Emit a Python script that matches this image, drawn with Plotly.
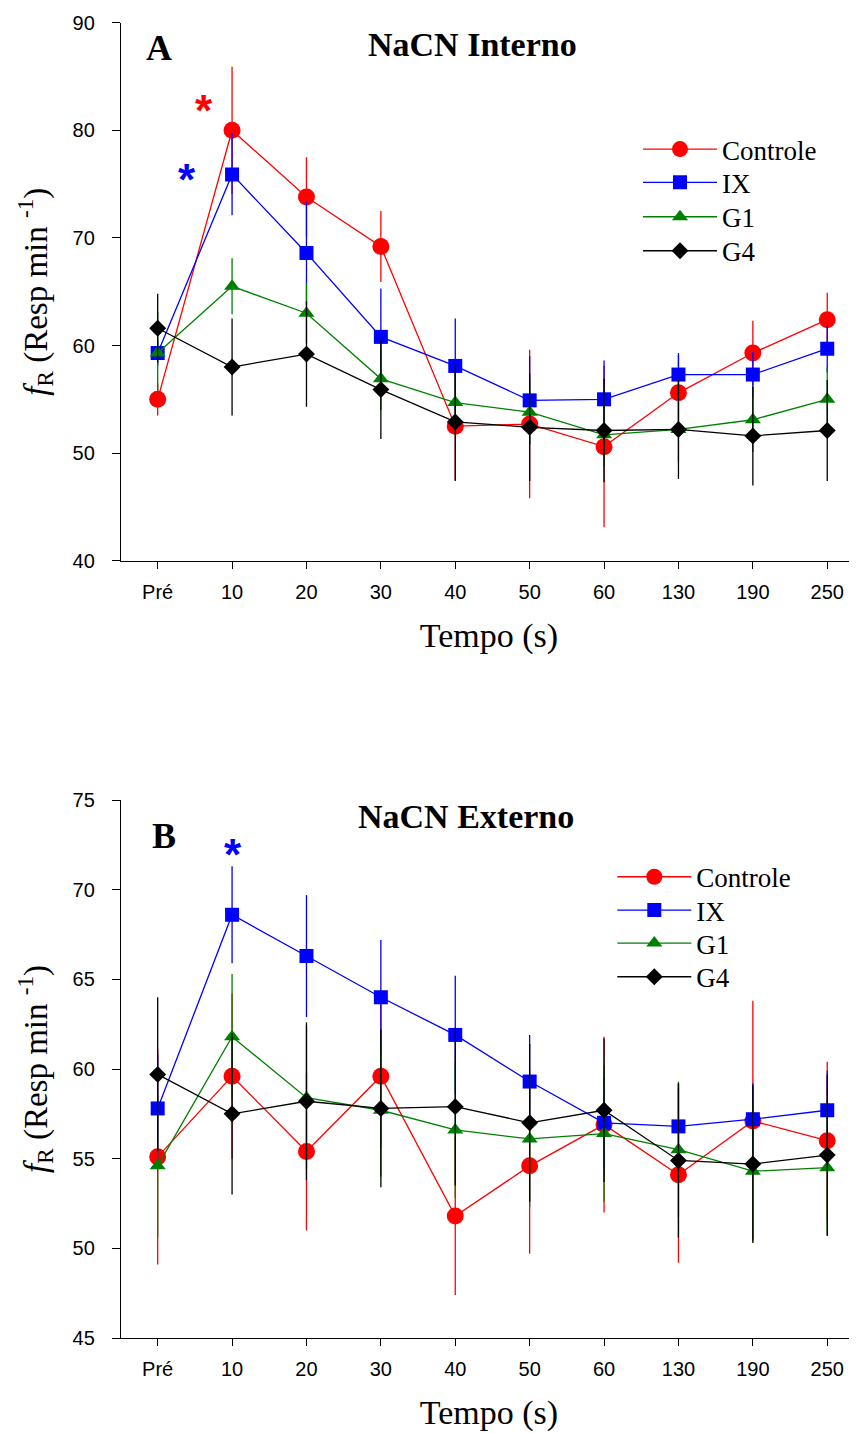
import plotly.graph_objects as go

categories = ["Pré", "10", "20", "30", "40", "50", "60", "130", "190", "250"]
series_names = ["Controle", "IX", "G1", "G4"]

# Panel A – NaCN Interno
a_controle = [55.0, 80.0, 73.8, 69.2, 52.5, 52.7, 50.6, 55.6, 59.3, 62.4]
a_controle_err = [1.5, 5.9, 3.7, 3.3, 5.0, 6.9, 7.5, 3.5, 3.0, 2.5]
a_ix = [59.3, 75.9, 68.6, 60.8, 58.1, 54.9, 55.0, 57.3, 57.3, 59.7]
a_ix_err = [1.2, 3.8, 4.8, 4.5, 4.4, 4.1, 3.6, 2.0, 2.1, 2.2]
a_g1 = [59.3, 65.5, 63.0, 56.9, 54.7, 53.8, 51.7, 52.2, 53.1, 55.0]
a_g1_err = [3.8, 2.6, 2.8, 2.9, 3.0, 3.0, 3.0, 3.0, 3.0, 3.0]
a_g4 = [61.6, 58.0, 59.2, 55.9, 52.9, 52.4, 52.1, 52.2, 51.6, 52.1]
a_g4_err = [3.2, 4.5, 4.9, 4.6, 5.5, 5.0, 4.8, 4.6, 4.6, 4.7]

# Panel B – NaCN Externo
b_controle = [55.1, 59.6, 55.4, 59.6, 51.8, 54.6, 56.9, 54.1, 57.1, 56.0]
b_controle_err = [6.0, 4.6, 4.4, 4.0, 4.4, 4.9, 4.9, 4.9, 6.7, 4.4]
b_ix = [57.8, 68.6, 66.3, 64.0, 61.9, 59.3, 57.0, 56.8, 57.2, 57.7]
b_ix_err = [3.0, 2.7, 3.4, 3.2, 3.3, 2.6, 2.5, 2.4, 2.0, 2.2]
b_g1 = [54.6, 61.8, 58.4, 57.7, 56.6, 56.1, 56.4, 55.5, 54.3, 54.5]
b_g1_err = [4.0, 3.5, 4.0, 3.7, 3.8, 3.8, 3.8, 3.8, 3.8, 3.8]
b_g4 = [59.7, 57.5, 58.2, 57.8, 57.9, 57.0, 57.7, 54.9, 54.7, 55.2]
b_g4_err = [4.3, 4.5, 4.4, 4.4, 4.4, 4.4, 4.0, 4.3, 4.4, 4.5]

colors = ["#FF0000", "#0000FF", "#008000", "#000000"]
symbols = ["circle", "square", "triangle-up", "diamond"]
msizes = [17, 14, 14, 13]

# page body has an 8px margin: figure is sized so it ends at the window edge
W, H = 849, 1425
OFF = 8  # reference-pixel -> figure-pixel offset

def px_x(v):
    return (v - OFF) / W

def px_y(v):
    return 1 - (v - OFF) / H

fig = go.Figure()

serif = "Liberation Serif, Times New Roman, serif"
sans = "Liberation Sans, Arial, sans-serif"

panels = [
    ("x", "y", [a_controle, a_ix, a_g1, a_g4], [a_controle_err, a_ix_err, a_g1_err, a_g4_err],
     680.0, [150.0, 183.3, 217.7, 251.7], 0),
    ("x2", "y2", [b_controle, b_ix, b_g1, b_g4], [b_controle_err, b_ix_err, b_g1_err, b_g4_err],
     654.3, [877.7, 911.0, 944.0, 977.7], 4),
]
ITEMW = 74
legends = {}
for xa, ya, vals, errs, mx, rows, lo in panels:
    for i, name in enumerate(series_names):
        lname = "legend" if lo + i == 0 else f"legend{lo + i + 1}"
        fig.add_trace(go.Scatter(
            x=categories, y=vals[i], name=name, xaxis=xa, yaxis=ya,
            mode="lines+markers", legend=lname,
            line=dict(color=colors[i], width=1.3),
            marker=dict(color=colors[i], symbol=symbols[i], size=msizes[i], line=dict(width=0)),
            error_y=dict(type="data", array=errs[i], visible=True, color=colors[i], thickness=1.3, width=0),
        ))
        legends[lname] = dict(
            x=px_x(mx - (ITEMW + 10) / 2), y=px_y(rows[i] - 25), xanchor="left", yanchor="top",
            font=dict(family=serif, size=27, color="black"), itemwidth=ITEMW,
            bgcolor="rgba(0,0,0,0)", borderwidth=0,
        )

def xaxis(anchor):
    return dict(
        type="category", categoryorder="array", categoryarray=categories,
        range=[-0.493, 9.40], domain=[px_x(121), 1.0], anchor=anchor,
        showline=True, linecolor="black", linewidth=1.3, mirror=False,
        ticks="outside", ticklen=7, tickwidth=1.3, tickcolor="black",
        showgrid=False, zeroline=False,
        tickfont=dict(family=sans, size=20, color="black"), ticklabelstandoff=6,
        title=dict(text="Tempo (s)", font=dict(family=serif, size=34, color="black"), standoff=21),
        automargin=False,
    )

def yaxis(anchor, rng, dtick, top_px, bot_px):
    return dict(
        range=rng, dtick=dtick, domain=[px_y(bot_px), px_y(top_px)], anchor=anchor,
        showline=True, linecolor="black", linewidth=1.3,
        ticks="outside", ticklen=8, tickwidth=1.3, tickcolor="black",
        showgrid=False, zeroline=False,
        tickfont=dict(family=sans, size=20, color="black"), ticklabelstandoff=13,
        title=dict(text="<i>f</i><sub>R</sub> (Resp min <sup>-1</sup>)",
                   font=dict(family=serif, size=33, color="black"), standoff=15),
        automargin=False,
    )

fig.update_layout(
    width=W, height=H,
    margin=dict(l=0, r=0, t=0, b=0),
    paper_bgcolor="white", plot_bgcolor="white",
    xaxis=xaxis("y"), yaxis=yaxis("x", [40, 90], 10, 22.7, 560.7),
    xaxis2=xaxis("y2"), yaxis2=yaxis("x2", [45, 75], 5, 800, 1338),
    showlegend=True,
    **legends,
)

ann = [
    dict(text="<b>A</b>", x=px_x(144), y=px_y(48), xanchor="left", yanchor="middle", font=dict(family=serif, size=36)),
    dict(text="<b>NaCN Interno</b>", x=px_x(472.5), y=px_y(45), xanchor="center", yanchor="middle", font=dict(family=serif, size=34)),
    dict(text="<b>B</b>", x=px_x(150), y=px_y(836), xanchor="left", yanchor="middle", font=dict(family=serif, size=36)),
    dict(text="<b>NaCN Externo</b>", x=px_x(466.5), y=px_y(816), xanchor="center", yanchor="middle", font=dict(family=serif, size=34)),
]
for a in ann:
    a.update(xref="paper", yref="paper", showarrow=False)
    a["font"]["color"] = "black"
    fig.add_annotation(**a)

# significance asterisks
stars = [
    dict(x=204.3, y=104.0, color="#FF0000"),
    dict(x=187.3, y=173.3, color="#0000FF"),
    dict(x=233.3, y=848.3, color="#0000FF"),
]
for s in stars:
    fig.add_annotation(text="<b>*</b>", x=px_x(s["x"]), y=px_y(s["y"] + 6.5), xref="paper", yref="paper",
                       xanchor="center", yanchor="middle", showarrow=False,
                       font=dict(family=sans, size=44, color=s["color"]))

fig.write_html("out.html")
